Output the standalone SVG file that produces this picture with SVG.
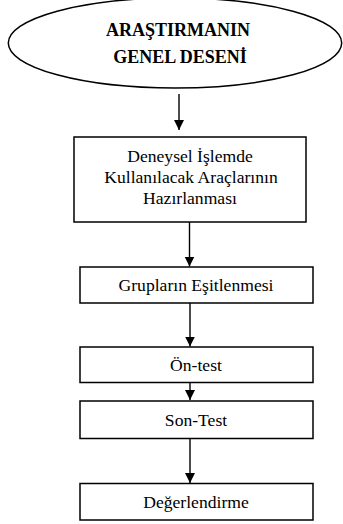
<svg xmlns="http://www.w3.org/2000/svg" width="343" height="524" viewBox="0 0 343 524">
<defs>
<style>
.box{fill:#fff;stroke:#000;stroke-width:1.5}
.t{font-size:17.6px;fill:#000;text-anchor:middle}
.b{font-size:18px;font-weight:bold;fill:#000;text-anchor:middle}
.c{stroke:#000;stroke-width:1.4;fill:none}
</style>
<marker id="ah" markerWidth="10" markerHeight="12" refX="10" refY="5" orient="auto" markerUnits="userSpaceOnUse" viewBox="0 0 10 10">
<path d="M0,0 L10,5 L0,10 Z" fill="#000"/>
</marker>
</defs>
<rect width="343" height="524" fill="#fff"/>
<g font-family="Liberation Serif, serif">
<g id="start">
<ellipse class="box" cx="175" cy="43" rx="166.7" ry="45"/>
<text class="b" x="178" y="36">ARAŞTIRMANIN</text>
<text class="b" x="180" y="63">GENEL DESENİ</text>
</g>
<g id="n1">
<rect class="box" x="74" y="137" width="232" height="85"/>
<text class="t" x="190" y="161.5">Deneysel İşlemde</text>
<text class="t" x="191" y="183">Kullanılacak Araçlarının</text>
<text class="t" x="190" y="204">Hazırlanması</text>
</g>
<g id="n2">
<rect class="box" x="80" y="267" width="233" height="36"/>
<text class="t" x="196" y="290.5">Grupların Eşitlenmesi</text>
</g>
<g id="n3">
<rect class="box" x="80" y="347" width="233" height="35.5"/>
<text class="t" x="196" y="371">Ön-test</text>
</g>
<g id="n4">
<rect class="box" x="80" y="401" width="233" height="37.5"/>
<text class="t" x="196" y="426">Son-Test</text>
</g>
<g id="n5">
<rect class="box" x="80" y="483.5" width="233" height="36.5"/>
<text class="t" x="196" y="508">Değerlendirme</text>
</g>
</g>
<g id="connectors">
<line class="c" x1="179" y1="94" x2="179" y2="130" marker-end="url(#ah)"/>
<line class="c" x1="189.5" y1="222" x2="189.5" y2="266.5" marker-end="url(#ah)"/>
<line class="c" x1="190" y1="303" x2="190" y2="346.5" marker-end="url(#ah)"/>
<line class="c" x1="190" y1="382.5" x2="190" y2="400" marker-end="url(#ah)"/>
<line class="c" x1="190" y1="438.5" x2="190" y2="483" marker-end="url(#ah)"/>
</g>
</svg>
